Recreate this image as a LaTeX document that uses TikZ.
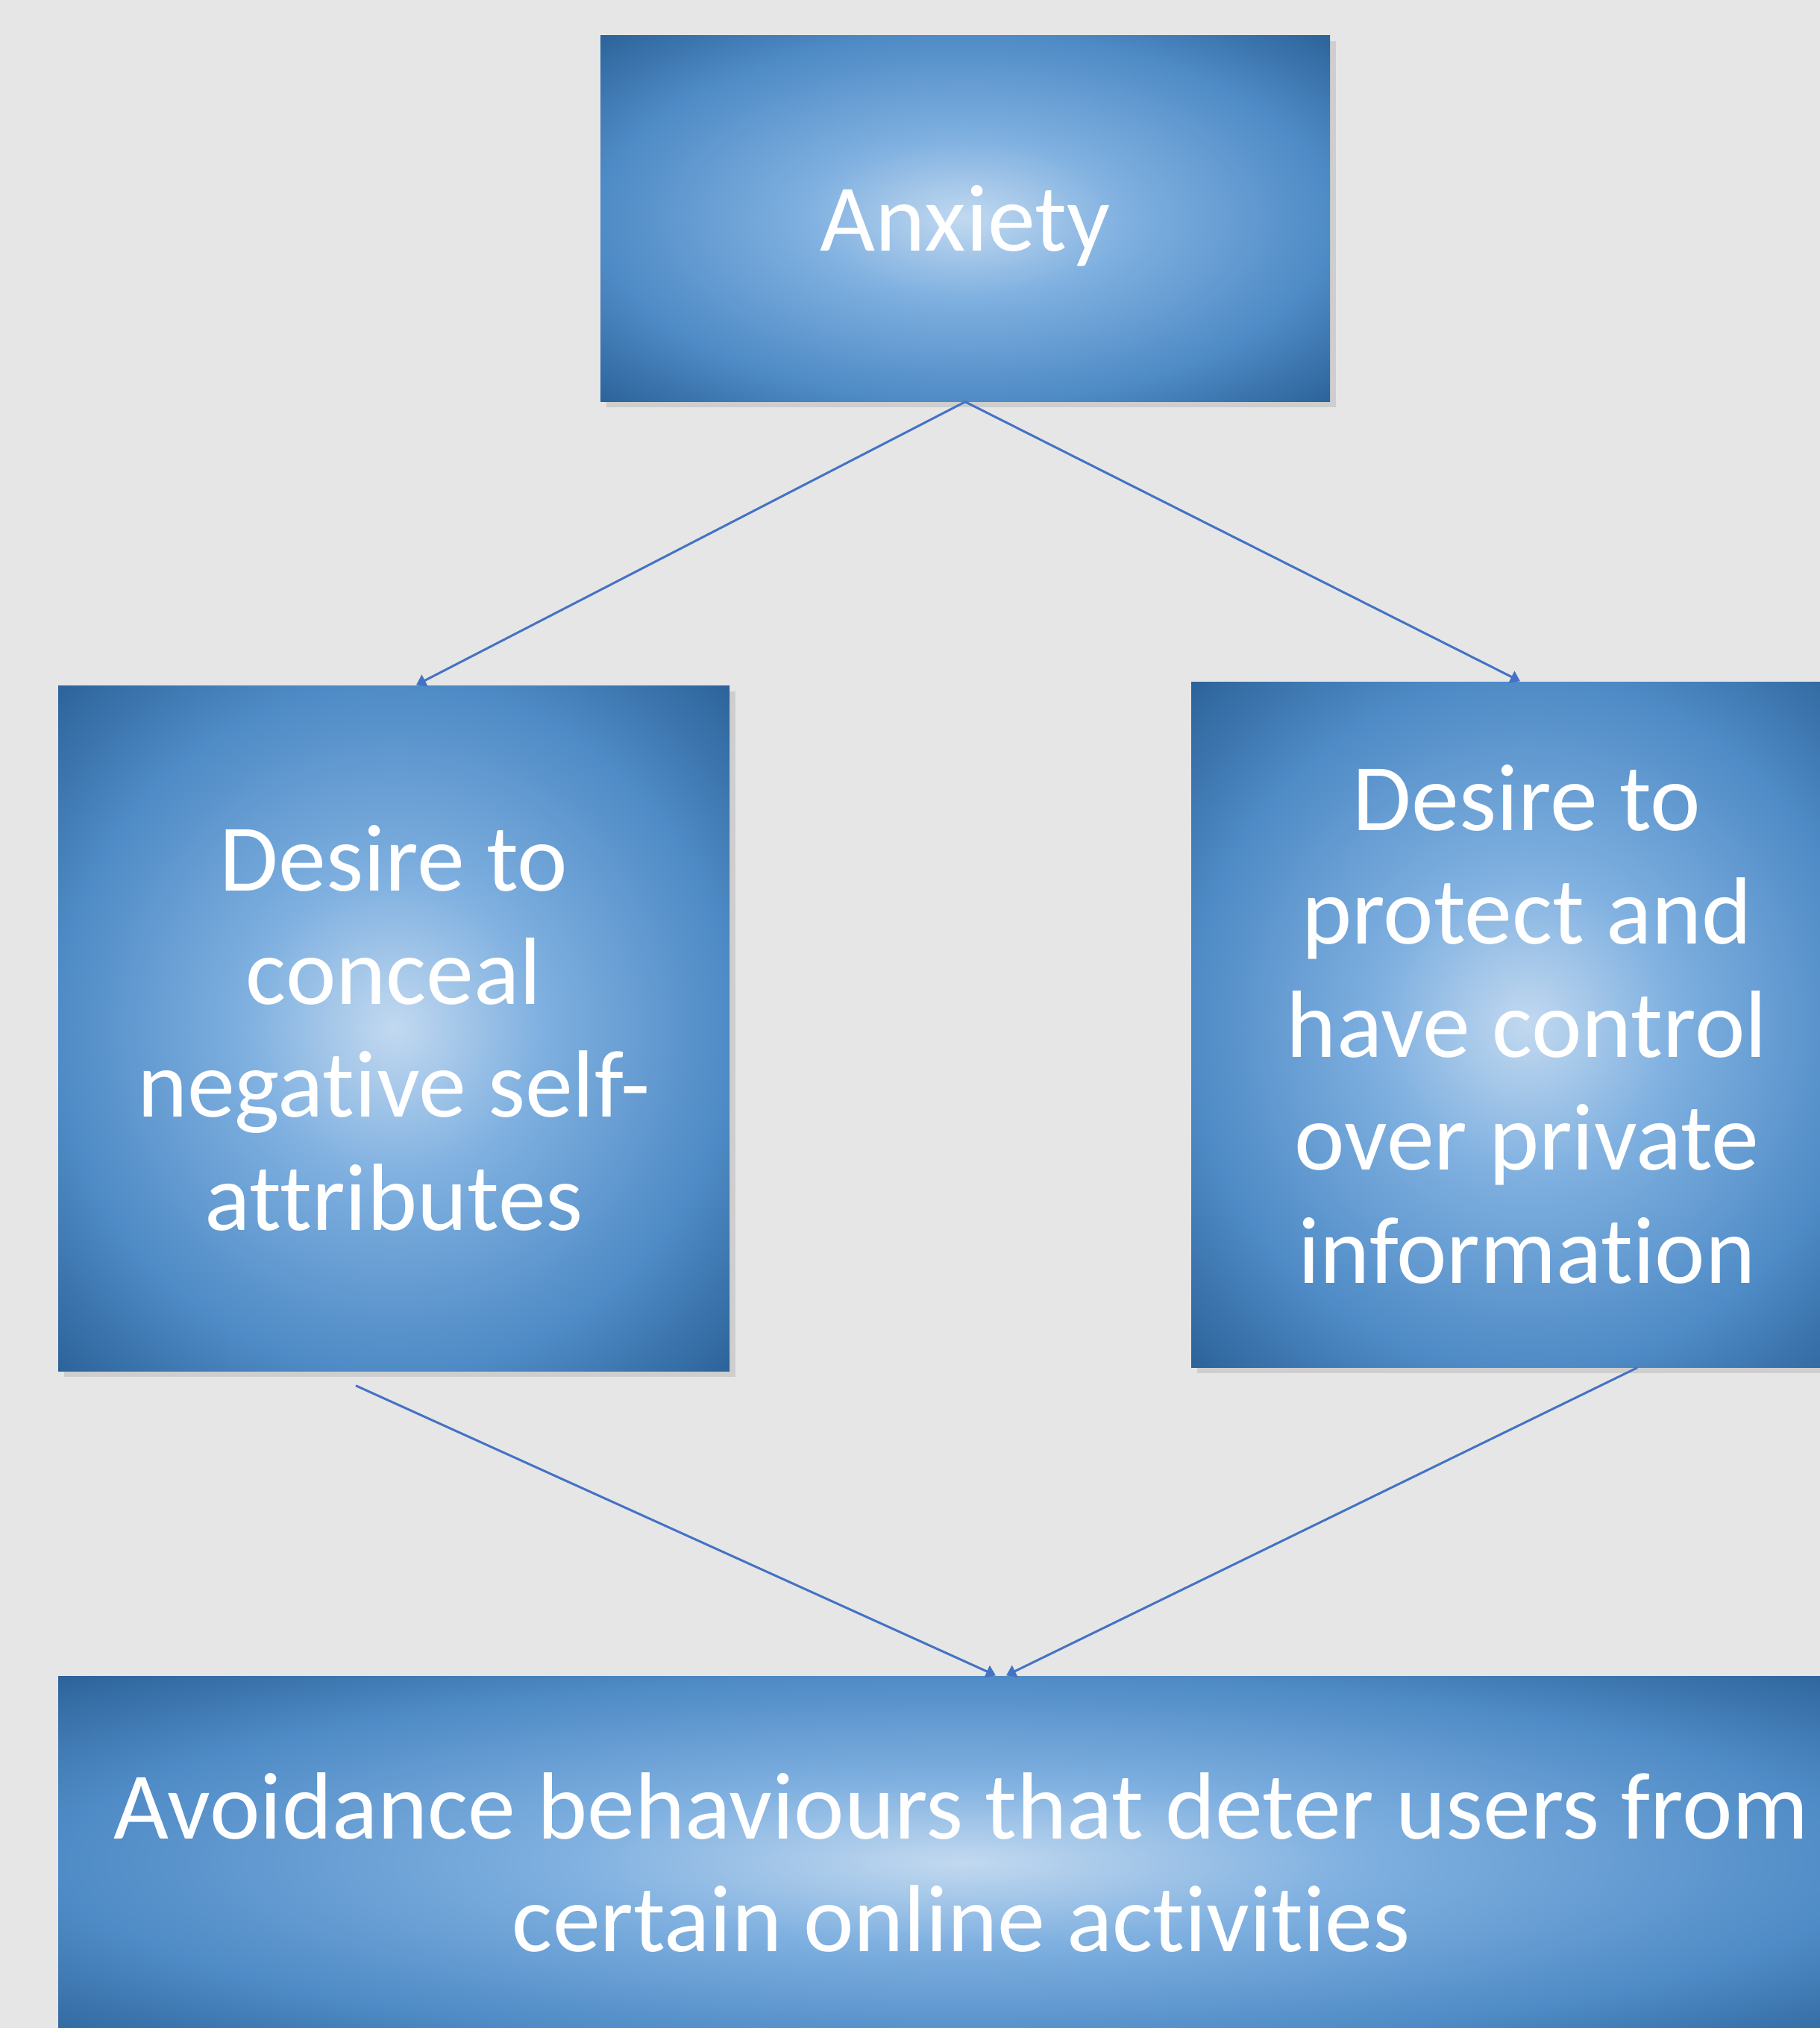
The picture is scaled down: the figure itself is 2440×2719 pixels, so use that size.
\documentclass[tikz,border=0pt]{standalone}
\usepackage{fontspec}
\setmainfont[RawFeature={-liga}]{Carlito}
\usepackage{tikz}
\usetikzlibrary{arrows.meta,positioning,shadows}

\definecolor{glowin}{HTML}{C2D9F0}
\definecolor{glowmid}{HTML}{7FB0E0}
\definecolor{glowedge}{HTML}{4F8BC6}
\definecolor{glowout}{HTML}{2A6097}
\definecolor{linkblue}{HTML}{4472C4}
\definecolor{paper}{HTML}{E6E6E6}

\pgfdeclareradialshading{boxglow}{\pgfpoint{0bp}{0bp}}{color(0bp)=(glowin); color(11bp)=(glowmid); color(25bp)=(glowedge); color(36bp)=(glowout); color(50bp)=(glowout)}

\begin{document}
\begin{tikzpicture}[x=0.1mm, y=-0.1mm, >=Stealth,
  box/.style={shading=boxglow, text=white, align=center, inner sep=0pt,
    font=\fontsize{36.4}{43.2}\selectfont,
    drop shadow={shadow xshift=0.8mm, shadow yshift=-0.8mm, opacity=0.1, fill=black}},
  link/.style={draw=linkblue, line width=0.3mm, -{Triangle[width=1.7mm,length=1.3mm]}}]
% Page
\fill[paper] (0,0) rectangle (2440,2719);
\useasboundingbox (0,0) rectangle (2440,2719);
\clip (0,0) rectangle (2440,2719);

% Boxes
\node[box, text depth=0pt, minimum width=97.8mm, minimum height=49.1mm] (anx) at (1294,292.5) {Anxiety};
\node[box, minimum width=90mm, minimum height=91.9mm] (desl) at (528,1378.5)
  {Desire to\\conceal\\negative self-\\attributes};
\node[box, minimum width=90mm, minimum height=91.9mm] (desr) at (2047,1373.5)
  {Desire to\\protect and\\have control\\over private\\information};
\node[box, minimum width=242.2mm, minimum height=50mm] (avoid) at (1289,2497)
  {Avoidance behaviours that deter users from\\certain online activities};

% Connectors
\draw[link] (anx.south) -- ([xshift=3mm]desl.north);
\draw[link] (anx.south) -- ([xshift=-0.9mm]desr.north);
\draw[link] ([xshift=-5.1mm,yshift=-1.9mm]desl.south) -- ([xshift=4.6mm]avoid.north);
\draw[link] ([xshift=14.8mm]desr.south) -- ([xshift=6mm]avoid.north);
\end{tikzpicture}
\end{document}
